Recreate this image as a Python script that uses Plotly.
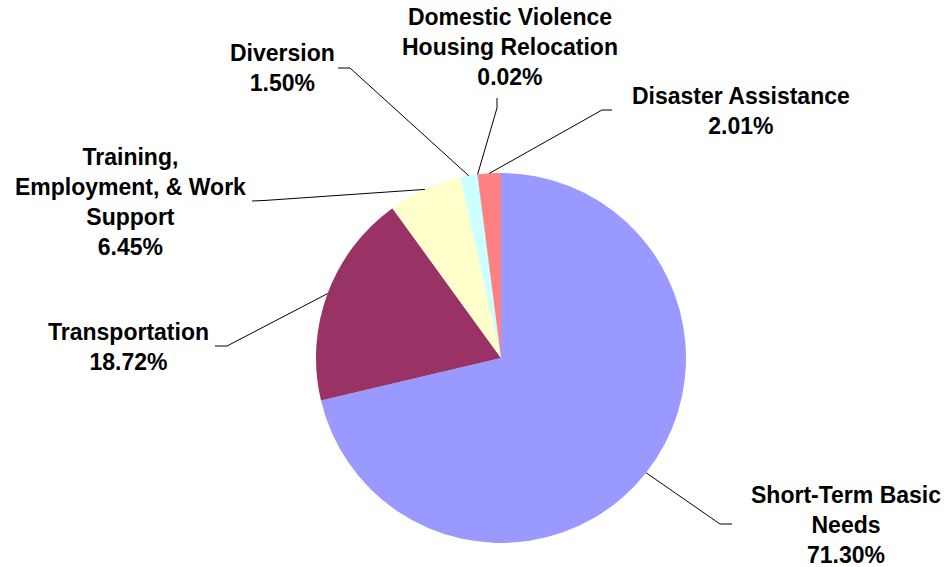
import math
import plotly.graph_objects as go

# ---- data ----
categories = [
    "Short-Term Basic Needs",
    "Transportation",
    "Training, Employment, & Work Support",
    "Diversion",
    "Domestic Violence Housing Relocation",
    "Disaster Assistance",
]
values = [71.30, 18.72, 6.45, 1.50, 0.02, 2.01]
label_text = [
    "Short-Term Basic<br>Needs",
    "Transportation",
    "Training,<br>Employment, & Work<br>Support",
    "Diversion",
    "Domestic Violence<br>Housing Relocation",
    "Disaster Assistance",
]

# ---- layout / style ----
colors = ["#9999FF", "#993366", "#FFFFCC", "#CCFFFF", "#3366CC", "#FF8080"]
W, H = 949, 567
CX, CY, R = 501, 358, 185
label_pos = [(846, 525), (128, 347), (130, 201.5), (282, 68), (510, 47), (741, 111)]
leader_tail = [
    [(720, 524), (732, 524)],
    [(227, 346), (215, 346)],
    [(264, 200.5), (252, 201)],
    [(350, 68), (338, 68)],
    [(497, 108), (497, 98)],
    [(602, 110), (612, 110)],
]
FONT = dict(family="Liberation Sans, Arial, sans-serif", size=23, color="black", weight="bold")

fig = go.Figure()
fig.add_trace(go.Pie(
    labels=categories,
    values=values,
    sort=False,
    direction="clockwise",
    rotation=0,
    marker=dict(colors=colors, line=dict(width=0)),
    textinfo="none",
    hoverinfo="none",
    showlegend=False,
    domain=dict(x=[(CX - R) / W, (CX + R) / W], y=[1 - (CY + R) / H, 1 - (CY - R) / H]),
))

total = sum(values)
cum = 0.0
shapes = []
annotations = []
for i, v in enumerate(values):
    mid = (cum + v / 2) / total * 2 * math.pi
    cum += v
    sx = CX + R * math.sin(mid)
    sy = CY - R * math.cos(mid)
    path = f"M {sx:.2f},{sy:.2f}"
    for (px, py) in leader_tail[i]:
        path += f" L {px},{py}"
    shapes.append(dict(type="path", path=path, xref="x", yref="y",
                       line=dict(color="black", width=1)))
    lx, ly = label_pos[i]
    annotations.append(dict(
        x=lx, y=ly, xref="x", yref="y", showarrow=False,
        text=f"{label_text[i]}<br>{v:.2f}%",
        xanchor="center", yanchor="middle", align="center",
        font=FONT,
    ))

fig.update_layout(
    width=W, height=H,
    margin=dict(l=0, r=0, t=0, b=0),
    paper_bgcolor="white", plot_bgcolor="rgba(0,0,0,0)",
    xaxis=dict(range=[0, W], visible=False, fixedrange=True, domain=[0, 1]),
    yaxis=dict(range=[H, 0], visible=False, fixedrange=True, domain=[0, 1]),
    shapes=shapes,
    annotations=annotations,
)

fig.write_html(
    "out.html",
    config={"displayModeBar": False},
    post_script="document.body.style.margin='0';document.body.style.overflow='hidden';",
)
